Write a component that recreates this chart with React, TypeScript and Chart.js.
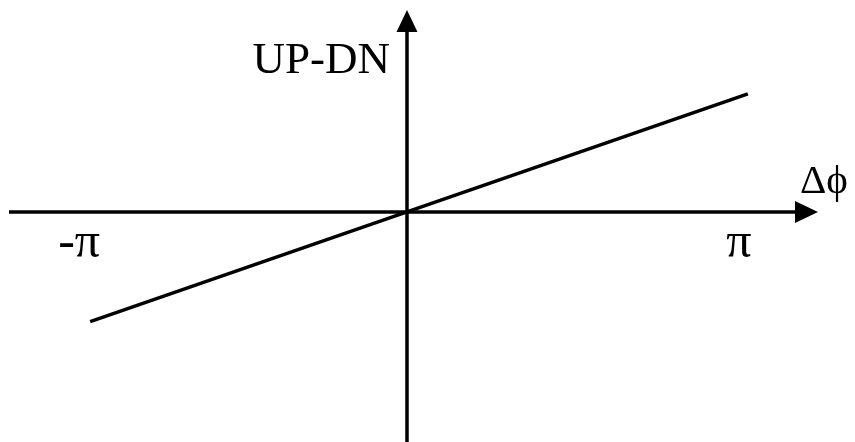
import { useEffect, useRef } from "react";
import { Chart, registerables } from "chart.js";

Chart.register(...registerables);

// Phase-detector transfer characteristic: UP-DN output vs. phase error Δϕ (radians)
const phaseError = [-2.92, 0, Math.PI];
const upMinusDown = [-0.465, 0, 0.5];

// Tick marks on the phase axis
const xTickValues = [-Math.PI, Math.PI];
const xTickLabels = ["-π", "π"];

// Axis titles
const xAxisTitle = "Δϕ";
const yAxisTitle = "UP-DN";

const WIDTH = 855;
const HEIGHT = 442;
const SERIF = '"Liberation Serif", "Times New Roman", serif';

// Draws both axes through the origin with arrowheads, plus their labels.
const crossAxesPlugin = {
  id: "crossAxes",
  beforeDatasetsDraw(chart: Chart) {
    const { ctx } = chart;
    const xs = chart.scales.x;
    const ys = chart.scales.y;
    const x0 = xs.getPixelForValue(0);
    const y0 = ys.getPixelForValue(0);
    const left = xs.getPixelForValue(-3.668);
    const right = xs.getPixelForValue(3.788);
    const top = ys.getPixelForValue(0.856);
    const bottom = ys.getPixelForValue(ys.min);

    ctx.save();
    ctx.strokeStyle = "#000";
    ctx.fillStyle = "#000";
    ctx.lineWidth = 3.5;

    // horizontal axis
    ctx.beginPath();
    ctx.moveTo(left, y0);
    ctx.lineTo(right - 20, y0);
    ctx.stroke();
    ctx.beginPath();
    ctx.moveTo(right, y0);
    ctx.lineTo(right - 23, y0 - 11);
    ctx.lineTo(right - 23, y0 + 11);
    ctx.closePath();
    ctx.fill();

    // vertical axis
    ctx.beginPath();
    ctx.moveTo(x0, bottom);
    ctx.lineTo(x0, top + 20);
    ctx.stroke();
    ctx.beginPath();
    ctx.moveTo(x0, top);
    ctx.lineTo(x0 - 10.5, top + 22);
    ctx.lineTo(x0 + 10.5, top + 22);
    ctx.closePath();
    ctx.fill();

    // tick labels
    ctx.font = `50px ${SERIF}`;
    ctx.textAlign = "center";
    ctx.textBaseline = "alphabetic";
    const shifts = [13, -9];
    xTickValues.forEach((v, i) => {
      ctx.fillText(xTickLabels[i], xs.getPixelForValue(v) + shifts[i], y0 + 45);
    });

    // axis titles
    ctx.font = `45px ${SERIF}`;
    ctx.textAlign = "right";
    ctx.fillText(yAxisTitle, x0 - 17, 73);

    ctx.font = `41px ${SERIF}`;
    ctx.textAlign = "left";
    ctx.fillText(xAxisTitle, right - 18, y0 - 19);
    ctx.restore();
  },
};

export default function App() {
  const canvasRef = useRef<HTMLCanvasElement | null>(null);

  useEffect(() => {
    const canvas = canvasRef.current;
    if (!canvas) return;
    const chart = new Chart(canvas, {
      type: "scatter",
      data: {
        datasets: [
          {
            data: phaseError.map((x, i) => ({ x, y: upMinusDown[i] })),
            showLine: true,
            borderColor: "#000",
            borderWidth: 3.5,
            pointRadius: 0,
            pointHoverRadius: 0,
            borderCapStyle: "butt",
          },
        ],
      },
      options: {
        animation: false,
        responsive: false,
        devicePixelRatio: 1,
        layout: { padding: 0 },
        plugins: {
          legend: { display: false },
          tooltip: { enabled: false },
        },
        scales: {
          x: { type: "linear", display: false, min: -3.751, max: 4.129 },
          y: { type: "linear", display: false, min: -0.975, max: 0.898 },
        },
      },
      plugins: [crossAxesPlugin],
    });
    return () => chart.destroy();
  }, []);

  return (
    <div style={{ position: "absolute", left: 0, top: 0, width: WIDTH, height: HEIGHT, background: "#fff" }}>
      <canvas ref={canvasRef} width={WIDTH} height={HEIGHT} />
    </div>
  );
}
